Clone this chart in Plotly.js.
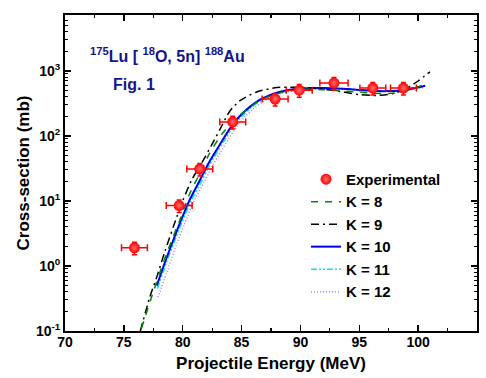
<!DOCTYPE html>
<html><head><meta charset="utf-8">
<script src="https://cdn.plot.ly/plotly-3.0.1.min.js"></script>
<style>html,body{margin:0;padding:0;background:#fff}#chart{width:486px;height:378px}</style>
</head><body><div id="chart"></div>
<script>
// Experimental data
const expE   = [75.9, 79.7, 81.45, 84.25, 87.85, 89.9, 92.85, 96.15, 98.75];
const expSig = [1.9, 8.5, 31, 164, 370, 505, 650, 545, 545];
const expEErr = [1.1, 1.1, 1.1, 1.1, 1.1, 1.1, 1.2, 1.1, 1.1];

// K = 8
const k8E = [76.5, 77.5, 78.6, 79.77, 80.6, 81.6, 82.3, 83.3, 84.3, 85.4, 86.6, 88.3, 90.0, 91.5, 93.0, 94.8, 96.0, 97.3, 98.5, 99.7, 100.65];
const k8S = [0.11, 0.4, 1.5, 5.2, 13, 30, 55, 105, 170, 250, 355, 460, 520, 520, 500, 475, 455, 450, 470, 540, 640];
// K = 9
const k9E = [76.4, 77.2, 77.8, 78.5, 79.2, 80.0, 80.76, 81.6, 82.5, 83.2, 84.0, 84.87, 86.3, 88.0, 89.5, 91.0, 92.3, 93.6, 95.1, 96.5, 97.8, 99.0, 100.0, 101.0];
const k9S = [0.1, 0.33, 0.68, 1.7, 4.0, 10, 21, 38, 75, 130, 240, 350, 475, 555, 560, 545, 515, 475, 430, 420, 445, 535, 700, 965];
// K = 10
const k10E = [77.8, 78.5, 79.2, 79.77, 80.6, 81.47, 82.2, 82.9, 83.6, 84.3, 85.0, 85.7, 86.5, 87.4, 88.2, 89.1, 90.5, 92.0, 93.6, 95.0, 96.5, 97.5, 98.7, 99.6, 100.6];
const k10S = [0.5, 1.15, 2.5, 4.6, 10.5, 21, 38, 62, 100, 155, 215, 280, 355, 425, 475, 515, 540, 545, 530, 510, 490, 490, 505, 540, 590];
// K = 11
const k11E = [77.85, 78.6, 79.3, 79.9, 80.7, 81.6, 82.3, 83.0, 83.7, 84.4, 85.1, 85.8, 86.6, 87.5, 88.3, 89.2, 90.6, 92.0, 93.6, 95.0, 96.5, 97.5, 98.7, 99.6, 100.6];
const k11S = [0.45, 1.1, 2.4, 4.5, 10, 20, 36, 59, 95, 148, 207, 270, 345, 415, 465, 508, 535, 540, 528, 508, 490, 488, 500, 530, 575];
// K = 12
const k12E = [77.9, 78.8, 79.5, 80.1, 80.9, 81.8, 82.5, 83.2, 83.9, 84.6, 85.3, 86.0, 86.8, 87.7, 88.5, 89.4, 90.8, 92.2, 93.8, 95.2, 96.6, 97.6, 98.8, 99.7, 100.6];
const k12S = [0.33, 0.95, 2.2, 4.2, 9.5, 19, 34, 56, 90, 140, 198, 260, 335, 405, 455, 500, 528, 535, 525, 505, 488, 486, 495, 520, 560];

const xTicks = [70, 75, 80, 85, 90, 95, 100, 105];
const yTickVals = [0.1, 1, 10, 100, 1000];
const yTickText = ['10<sup>-1</sup>', '10<sup>0</sup>', '10<sup>1</sup>', '10<sup>2</sup>', '10<sup>3</sup>'];
const yMinor = [];
[0.1, 1, 10, 100, 1000].forEach(d => { for (let m = 2; m <= 9; m++) yMinor.push(d * m); });

const FONT = 'Arial, "Liberation Sans", sans-serif';

function curve(x, y, name, color, dash, width) {
  return {x: x, y: y, name: name, type: 'scatter', mode: 'lines',
    line: {color: color, dash: dash, width: width, shape: 'spline', smoothing: 0.7}};
}

const traces = [
  curve(k12E, k12S, 'K = 12', '#b07cff', '1px,2px', 1.5),
  curve(k11E, k11S, 'K = 11', '#00e5ff', '6px,2px,2px,2px,2px,2px', 1.5),
  curve(k10E, k10S, 'K = 10', '#0000ee', 'solid', 2),
  curve(k9E, k9S, 'K = 9', '#000000', '8px,4px,2px,4px', 1.5),
  curve(k8E, k8S, 'K = 8', '#008a00', '7px,7px', 1.5),
  {x: expE, y: expSig, name: 'Experimental', type: 'scatter', mode: 'markers',
   marker: {color: '#ff0000', size: 11, gradient: {type: 'radial', color: '#ff7070'}, line: {width: 0}},
   error_x: {type: 'data', array: expEErr, color: '#ff0000', thickness: 1.5, width: 3.5},
   error_y: {type: 'percent', value: 22, color: '#ff0000', thickness: 1.5, width: 2.5}}
];

const layout = {
  width: 486, height: 378,
  margin: {l: 65, r: 9, t: 15, b: 47},
  paper_bgcolor: '#ffffff', plot_bgcolor: '#ffffff',
  font: {family: FONT, color: '#000', size: 14},
  showlegend: true,
  legend: {x: 0.585, y: 0.532, xanchor: 'left', yanchor: 'top', traceorder: 'reversed',
    bgcolor: 'rgba(0,0,0,0)', font: {family: FONT, size: 15, color: '#000', weight: 'bold'},
    tracegroupgap: 0},
  xaxis: {range: [70, 105], tickmode: 'array', tickvals: xTicks, ticktext: xTicks.map(String),
    ticks: 'inside', ticklen: 6, tickwidth: 1.5, tickcolor: '#000', ticklabelstandoff: -3,
    minor: {ticks: 'inside', ticklen: 3, tickwidth: 1.2, tickcolor: '#000', dtick: 2.5, tick0: 70},
    showline: true, linecolor: '#000', linewidth: 2, mirror: 'allticks', showgrid: false, zeroline: false,
    tickfont: {family: FONT, size: 14, weight: 'bold'},
    title: {text: 'Projectile Energy (MeV)', font: {family: FONT, size: 17, weight: 'bold'}, standoff: 8}},
  yaxis: {type: 'log', range: [-1, 3.86], tickmode: 'array', tickvals: yTickVals, ticktext: yTickText,
    ticks: 'inside', ticklen: 6, tickwidth: 1.5, tickcolor: '#000',
    minor: {ticks: 'inside', ticklen: 3, tickwidth: 1, tickcolor: '#000', tickmode: 'array', tickvals: yMinor},
    showline: true, linecolor: '#000', linewidth: 2, mirror: 'allticks', showgrid: false, zeroline: false,
    tickfont: {family: FONT, size: 14, weight: 'bold'},
    title: {text: 'Cross-section (mb)', font: {family: FONT, size: 17, weight: 'bold'}, standoff: 2}},
  annotations: [
    {xref: 'paper', yref: 'paper', x: (88 - 65) / 412, y: (331 - 55) / 316, xanchor: 'left', yanchor: 'middle',
     showarrow: false, text: '<sup>175</sup>Lu [ <sup>18</sup>O, 5n] <sup>188</sup>Au',
     font: {family: FONT, size: 16, color: '#14148a', weight: 'bold'}},
    {xref: 'paper', yref: 'paper', x: (111 - 65) / 412, y: (331 - 85) / 316, xanchor: 'left', yanchor: 'middle',
     showarrow: false, text: 'Fig. 1', font: {family: FONT, size: 16, color: '#14148a', weight: 'bold'}}
  ]
};

Plotly.newPlot('chart', traces, layout, {displayModeBar: false, staticPlot: true});
</script></body></html>
